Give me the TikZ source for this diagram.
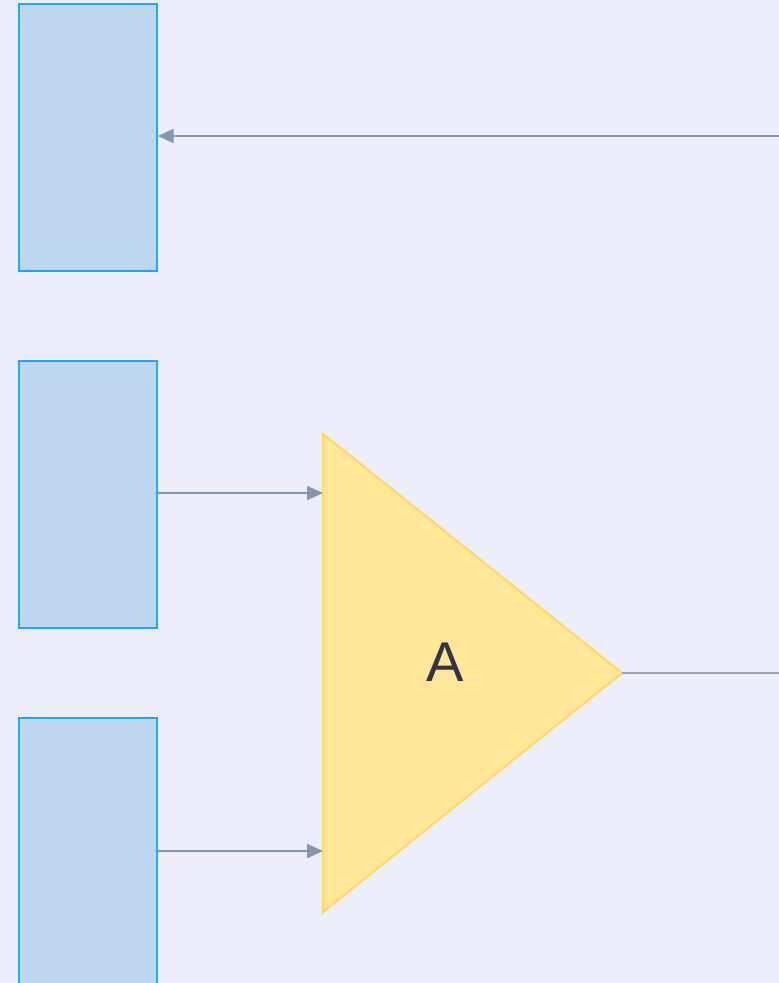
\documentclass[tikz,border=0pt]{standalone}
\usepackage{fontspec}
\setmainfont{Liberation Sans}
\usetikzlibrary{arrows.meta}
\definecolor{bg}{HTML}{ECEEF9}
\definecolor{boxfill}{HTML}{BDD7EE}
\definecolor{boxline}{HTML}{1FA7FB}
\definecolor{trifill}{HTML}{FFE699}
\definecolor{triline}{HTML}{FFD966}
\definecolor{wire}{HTML}{8497B0}
\definecolor{wirethin}{HTML}{9AA6BF}
\definecolor{ink}{HTML}{333344}
\tikzset{
  unitbox/.style={draw=boxline, fill=boxfill, line width=2.2pt, minimum width=138pt, minimum height=267pt, inner sep=0pt, anchor=north west},
  feed/.style={draw=wire, line width=2.2pt, -{Triangle[length=16pt,width=14pt]}},
  outwire/.style={draw=wirethin, line width=1.6pt},
}
\begin{document}
\begin{tikzpicture}[x=1pt,y=-1pt]
  \useasboundingbox (0,0) rectangle (779,983);
  \clip (0,0) rectangle (779,983);
  \fill[bg] (0,0) rectangle (779,983);

  % source blocks
  \node[unitbox] (b1) at (17.5,2.5) {};
  \node[unitbox] (b2) at (17.5,359.5) {};
  \node[unitbox] (b3) at (17.5,716.5) {};

  % amplifier triangle
  \coordinate (tl) at (323,434);
  \coordinate (bl) at (323,912);
  \coordinate (tip) at (622,673);
  \filldraw[fill=trifill, draw=triline, line width=2.2pt, line join=miter] (tl) -- (tip) -- (bl) -- cycle;
  \node[text=ink, font=\fontsize{56}{60}\selectfont, inner sep=0pt] (amp) at (445,662) {A};

  % inputs and output
  \coordinate (in1) at (323,493);
  \coordinate (in2) at (323,851);
  \coordinate (far) at (800,136);
  \coordinate (outend) at (800,673);
  \draw[feed] (far) -- (b1.east |- far);
  \draw[feed] (b2.east |- in1) -- (in1);
  \draw[feed] (b3.east |- in2) -- (in2);
  \draw[outwire] (tip) -- (outend);
\end{tikzpicture}
\end{document}
